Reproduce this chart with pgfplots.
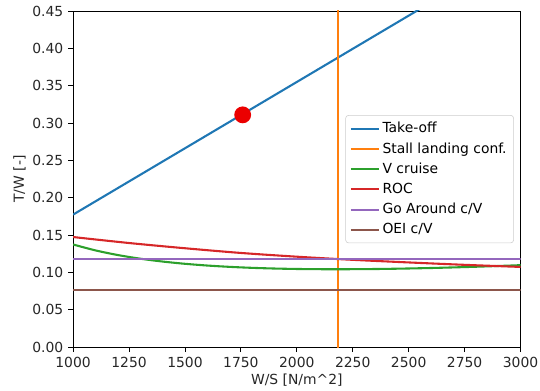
\documentclass[border=0pt]{standalone}
\usepackage{fontspec}
\setmainfont{DejaVu Sans}
\usepackage{pgfplots}
\pgfplotsset{compat=1.18}
\definecolor{mplblue}{HTML}{1F77B4}
\definecolor{mplorange}{HTML}{FF7F0E}
\definecolor{mplgreen}{HTML}{2CA02C}
\definecolor{mplred}{HTML}{D62728}
\definecolor{mplpurple}{HTML}{9467BD}
\definecolor{mplbrown}{HTML}{8C564B}
\begin{document}
\begin{tikzpicture}
\begin{axis}[
  scale only axis,
  width=322pt, height=242pt,
  xmin=1000, xmax=3000, ymin=0, ymax=0.45,
  xtick={1000,1250,1500,1750,2000,2250,2500,2750,3000},
  ytick={0,0.05,0.10,0.15,0.20,0.25,0.30,0.35,0.40,0.45},
  tick align=outside, tick pos=left,
  major tick length=3.5pt,
  axis line style={line width=0.6pt},
  every tick/.style={black, line width=0.6pt},
  /pgf/number format/assume math mode=true,
  xticklabel style={/pgf/number format/.cd, 1000 sep={}, fixed},
  yticklabel style={/pgf/number format/.cd, fixed, fixed zerofill, precision=2},
  tick label style={font=\fontsize{10}{12}\selectfont, text=black!85},
  label style={font=\fontsize{10}{12}\selectfont, text=black!85},
  xlabel={W/S [N/m\textasciicircum 2]},
  ylabel={T/W [-]},
  xlabel style={yshift=2pt},
  ylabel style={yshift=-2pt},
  legend style={at={(0.985,0.5)}, anchor=east, font=\fontsize{10}{12}\selectfont,
    draw=black!20, rounded corners=2pt, fill=white, inner sep=3pt,
    row sep=1.5pt, cells={anchor=west}},
  legend image code/.code={\draw[#1] plot coordinates {(0pt,0pt) (10pt,0pt) (20pt,0pt)};},
  every axis plot/.append style={line width=1.5pt},
  clip=true,
]
\addplot[color=mplblue] coordinates {(1000,0.1775) (3000,0.5325)};
\addlegendentry{Take-off}
\addplot[color=mplorange] coordinates {(2186,-0.05) (2186,0.5)};
\addlegendentry{Stall landing conf.}
\addplot[color=mplgreen, smooth] coordinates {
(1000,0.13754) (1100,0.12962) (1200,0.12341) (1300,0.11853) (1400,0.11470)
(1500,0.11169) (1600,0.10936) (1700,0.10759) (1800,0.10628) (1900,0.10536)
(2000,0.10476) (2100,0.10446) (2200,0.10441) (2300,0.10456) (2400,0.10490)
(2500,0.10542) (2600,0.10606) (2700,0.10685) (2800,0.10775) (2900,0.10875)
(3000,0.10985)};
\addlegendentry{V cruise}
\addplot[color=mplred, smooth] coordinates {
(1000,0.1475) (1250,0.1395) (1500,0.1325) (1750,0.1262) (2000,0.1212)
(2250,0.1170) (2500,0.1135) (2750,0.1103) (3000,0.1075)};
\addlegendentry{ROC}
\addplot[color=mplpurple] coordinates {(1000,0.1178) (3000,0.1178)};
\addlegendentry{Go Around c/V}
\addplot[color=mplbrown] coordinates {(1000,0.0763) (3000,0.0763)};
\addlegendentry{OEI c/V}
\addplot[forget plot, only marks, mark=*, mark size=5.3pt, color=red!92!black, mark options={fill=red!92!black, draw=red!92!black}] coordinates {(1758,0.311)};
\end{axis}
\pgfresetboundingbox
\path ([xshift=-52.6pt,yshift=-31pt]current axis.south west) rectangle ([xshift=14pt,yshift=7.9pt]current axis.north east);
\end{tikzpicture}
\end{document}
